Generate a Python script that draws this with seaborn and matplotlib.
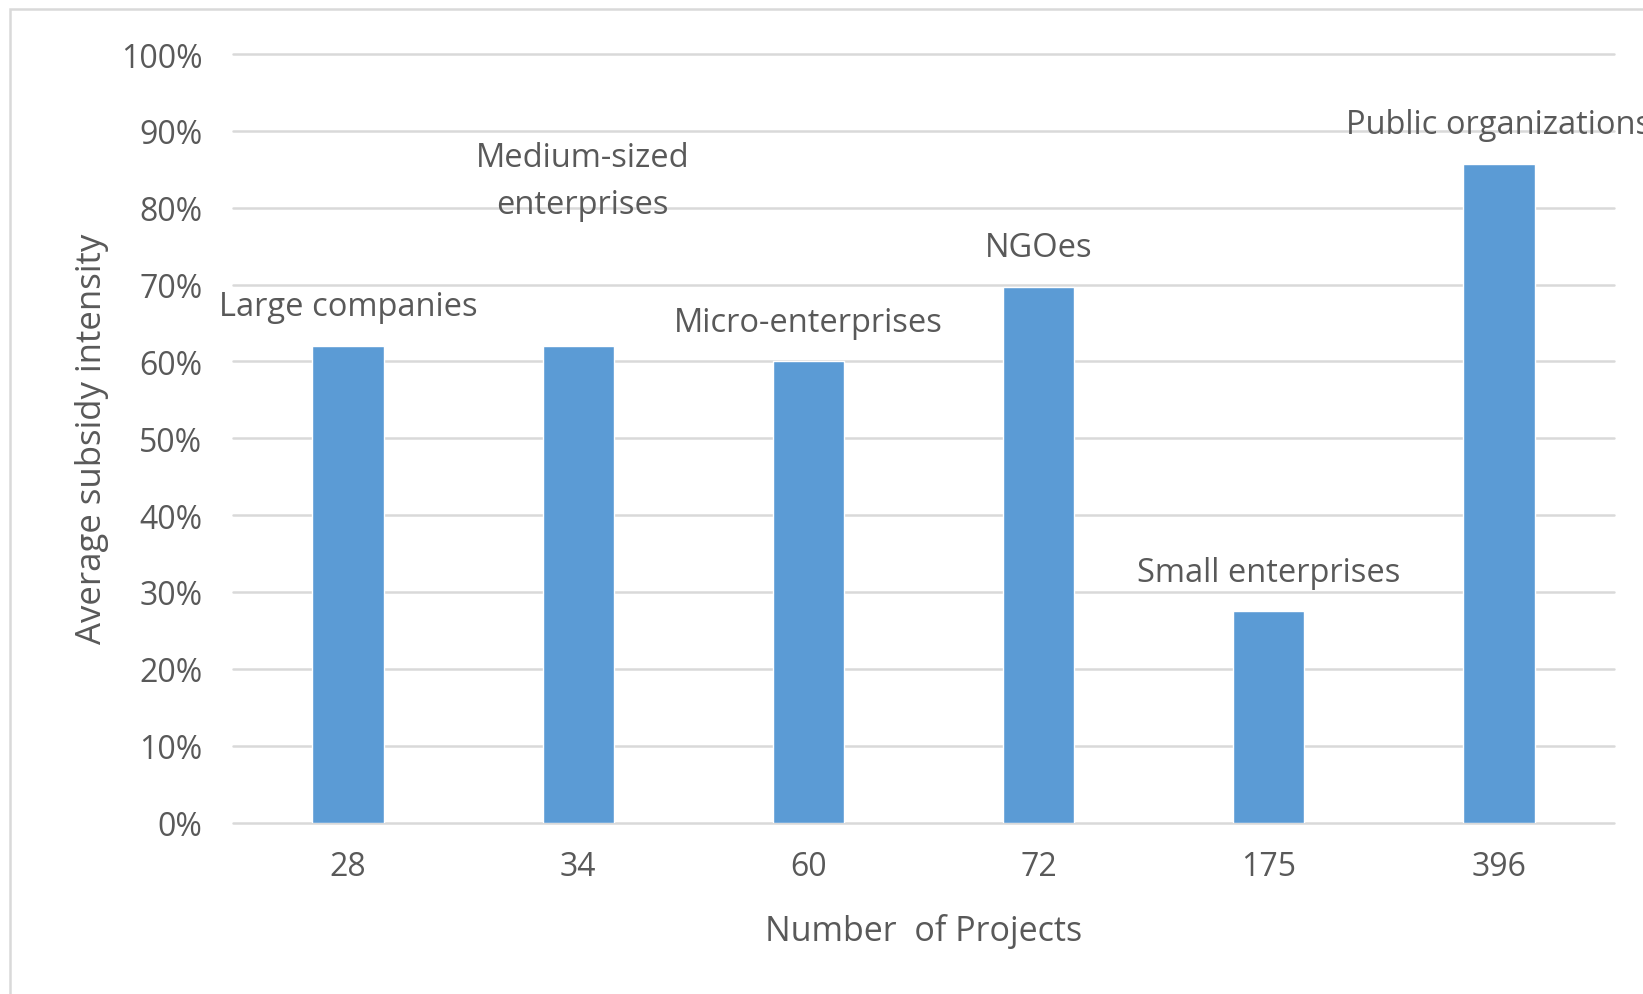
import matplotlib
matplotlib.use("Agg")
import matplotlib.pyplot as plt
from matplotlib.patches import Rectangle
from matplotlib.ticker import PercentFormatter
import seaborn as sns

# Number of projects per applicant type (x categories)
projects = ["28", "34", "60", "72", "175", "396"]
# Applicant type shown above each bar
applicant_types = [
    "Large companies",
    "Medium-sized\nenterprises",
    "Micro-enterprises",
    "NGOes",
    "Small enterprises",
    "Public organizations",
]
# Average subsidy intensity (share of eligible cost)
intensity = [0.62, 0.62, 0.60, 0.697, 0.275, 0.857]

y_ticks = [0.0, 0.1, 0.2, 0.3, 0.4, 0.5, 0.6, 0.7, 0.8, 0.9, 1.0]

sns.set_theme(style="white")
plt.rcParams["font.family"] = ["Open Sans", "DejaVu Sans"]

TEXT = "#595959"
GRID = "#D9D9D9"
BAR = "#5B9BD5"

W, H, DPI = 1643, 995, 100
fig = plt.figure(figsize=(W / DPI, H / DPI), dpi=DPI, facecolor="white")
ax = fig.add_axes([233 / W, 1 - 823.5 / H, (1614 - 233) / W, (823.5 - 55) / H])

sns.barplot(x=projects, y=intensity, color=BAR, saturation=1, width=0.31,
            ax=ax, zorder=2)

ax.set_xlim(-0.5, len(projects) - 0.5)
ax.set_ylim(0, 1.0)
ax.set_yticks(y_ticks)
ax.yaxis.set_major_formatter(PercentFormatter(1.0, decimals=0))

ax.set_axisbelow(True)
ax.grid(axis="y", color=GRID, linewidth=1.8)
ax.grid(axis="x", visible=False)
for line in ax.get_ygridlines():
    line.set_clip_on(False)
for s in ax.spines.values():
    s.set_visible(False)

ax.tick_params(axis="both", length=0, labelsize=23, colors=TEXT)
ax.tick_params(axis="y", pad=22)
ax.tick_params(axis="x", pad=20)

ax.set_xlabel("Number  of Projects", fontsize=24.5, color=TEXT)
ax.set_ylabel("Average subsidy intensity", fontsize=25, color=TEXT)
ax.xaxis.set_label_coords(0.5, -0.118)
ax.yaxis.set_label_coords(-0.102, 0.5)
ax.yaxis.label.set_va("center")

# Applicant type printed above each bar
for i, (name, val) in enumerate(zip(applicant_types, intensity)):
    if "\n" in name:
        offset = (3, 96)
    else:
        offset = (0, 22)
    ax.annotate(name, xy=(i, val), xytext=offset, textcoords="offset points",
                ha="center", va="baseline", fontsize=23.5, color=TEXT,
                linespacing=1.55, multialignment="center")

# Chart frame
fig.patches.append(Rectangle((10 / W, -0.2), 2.0, 1.2 - 10 / H,
                             transform=fig.transFigure, fill=False,
                             edgecolor=GRID, linewidth=1.8))

fig.savefig("out.png", dpi=DPI, facecolor="white")
